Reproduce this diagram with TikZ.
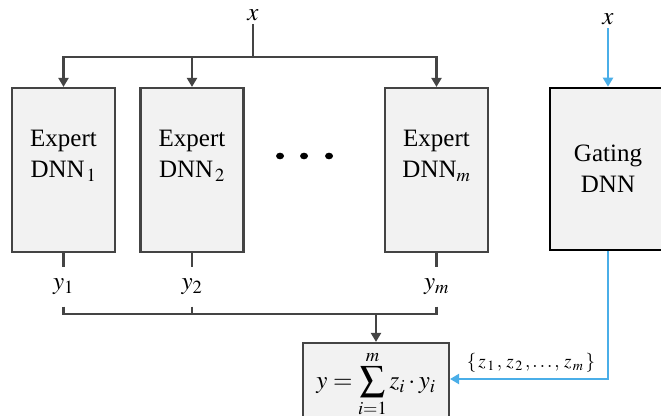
\documentclass[tikz,border=0pt]{standalone}
\usepackage{mathptmx}
\usepackage{fontspec}
\setmainfont{Liberation Serif}
\usepackage{tikz}
\usetikzlibrary{arrows.meta, positioning, calc}
\definecolor{boxbg}{HTML}{F2F2F2}
\definecolor{wiregray}{HTML}{444444}
\definecolor{gateblue}{HTML}{4AAEE8}

\begin{document}
\begin{tikzpicture}[
    x=1pt, y=1pt,
    every node/.style={font=\fontsize{25}{31}\selectfont},
    expert/.style={draw=wiregray, fill=boxbg, line width=2.2pt, minimum width=103pt, minimum height=164pt},
    gatebox/.style={draw=black, fill=boxbg, line width=2.6pt, minimum width=116pt, minimum height=162pt},
    sumbox/.style={draw=wiregray, fill=boxbg, line width=2.2pt, minimum width=146pt, minimum height=84pt},
    txt/.style={align=center, inner sep=0pt},
    lbl/.style={inner sep=0pt, minimum height=39pt},
    wire/.style={draw=wiregray, line width=2.2pt},
    bluewire/.style={draw=gateblue, line width=2.2pt},
    arr/.style={-{Triangle[width=10pt,length=9pt]}}
]
\useasboundingbox (0,0) rectangle (661,415);
\clip (0,0) rectangle (661,415);

% Expert boxes
\node[expert] (exp1) at (63.5,245) {};
\node[expert] (exp2) at (192,245) {};
\node[expert] (expm) at (436.5,245) {};
\node[txt] (exp1txt) at ([yshift=14pt]exp1.center) {Expert\\DNN$_{\,1}$};
\node[txt] (exp2txt) at ([yshift=14pt]exp2.center) {Expert\\DNN$_{\,2}$};
\node[txt] (expmtxt) at ([yshift=14pt]expm.center) {Expert\\DNN$_{m}$};

% dots between experts
\foreach \dx in {280,304,329}
  \fill[black] (\dx,259) ellipse (4pt and 3.3pt);

% Gating box
\node[gatebox] (gate) at (608,246) {};
\node[txt] (gatetxt) at (gate.center) {Gating\\DNN};

% Input x to experts
\node (xin) at (253,400) {$x$};
\coordinate (busin) at (253,358);
\draw[wire] (xin) -- (busin);
\draw[wire, arr] (busin) -| (exp1);
\draw[wire, arr] (busin) -| (exp2);
\draw[wire, arr] (busin) -| (expm);

% Input x to gating
\node (xg) at (608,396) {$x$};
\draw[bluewire, arr] (xg) -- (gate);

% Expert outputs
\node[lbl] (y1) at (63.5,128) {$y_1$};
\node[lbl] (y2) at (192,128) {$y_2$};
\node[lbl] (ym) at (436.5,128) {$y_m$};
\draw[wire] (exp1) -- (y1);
\draw[wire] (exp2) -- (y2);
\draw[wire] (expm) -- (ym);

% Combination
\node[sumbox] (sum) at (376,30) {};
\node[txt] (sumtxt) at (376,31) {$\displaystyle y=\sum_{i=1}^{m} z_i\cdot y_i$};
\coordinate (sumin) at (376,101);
\draw[wire] (y1) |- (sumin);
\draw[wire] (y2) |- (sumin);
\draw[wire] (ym) |- (sumin);
\draw[wire, arr] (sumin) -- (sum);

% Gating weights
\draw[bluewire, arr] (gate.south) |- ([yshift=6pt]sum.east);
\node[font=\fontsize{19}{22}\selectfont] (zset) at (531,52) {$\{\,z_{\,1}\,,\,z_{\,2}\,,\ldots,\,z_{\,m}\,\}$};
\end{tikzpicture}
\end{document}
